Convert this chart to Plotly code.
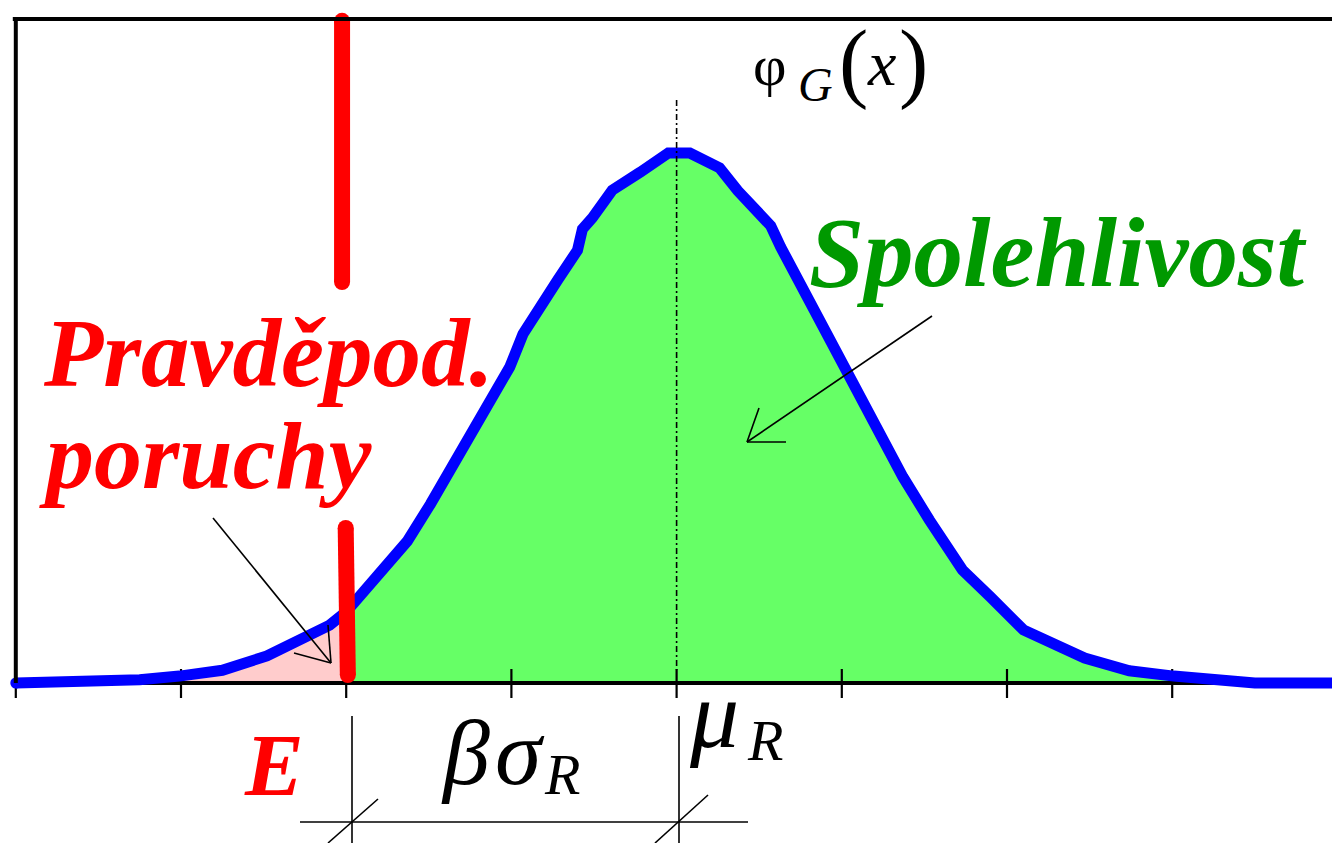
import plotly.graph_objects as go

# ---------------- data (x in units of sigma, tick index; y = relative density) -------------
TICKS = [0, 1, 2, 3, 4, 5, 6, 7]
MU = 4.0          # mean of R
BETA = 2.0        # reliability index
E = MU - BETA     # design point

CURVE_X = [0.0, 0.51, 0.75, 0.99, 1.25, 1.52, 1.72, 1.90, 2.00, 2.10, 2.20, 2.37, 2.51, 2.65,
           2.75, 2.87, 2.99, 3.07, 3.17, 3.28, 3.40, 3.43, 3.49, 3.61, 3.78, 3.95, 4.08, 4.26,
           4.37, 4.49, 4.57, 4.63, 4.81, 4.91, 4.99, 5.09, 5.21, 5.37, 5.53, 5.67, 5.73, 5.90,
           6.10, 6.47, 6.74, 7.01, 7.23, 7.50, 7.97]
CURVE_Y = [0.0, 0.002, 0.006, 0.013, 0.024, 0.051, 0.079, 0.109, 0.134, 0.168, 0.209, 0.267,
           0.337, 0.412, 0.469, 0.531, 0.595, 0.657, 0.708, 0.759, 0.815, 0.855, 0.876, 0.928,
           0.962, 0.998, 0.998, 0.970, 0.927, 0.883, 0.861, 0.821, 0.716, 0.659, 0.603, 0.552,
           0.476, 0.388, 0.307, 0.237, 0.213, 0.162, 0.100, 0.047, 0.023, 0.013, 0.008, 0.0, 0.0]

RED_UPPER_X = [1.975, 1.975]
RED_UPPER_Y = [1.247, 0.755]
RED_LOWER_X = [1.997, 2.010]
RED_LOWER_Y = [0.292, 0.015]

# ---------------- geometry of the canvas ----------------
W, H = 1332, 843
X0_PX, DX_PX = 15.8, 165.2     # pixel of x=0, pixels per unit
Y0_PX, DY_PX = 683.0, 531.0    # pixel of y=0, pixels per unit


def ux(px):
    return (px - X0_PX) / DX_PX


def vy(py):
    return (Y0_PX - py) / DY_PX


XR = [ux(0), ux(W)]
YR = [vy(H), vy(0)]

SERIF = "'Liberation Serif', 'Times New Roman', Times, serif"
RED = "#ff0000"
GREEN_TXT = "#009900"
GREEN_FILL = "#66ff66"
PINK_FILL = "#ffcccc"
BLUE = "#0000ff"

fig = go.Figure()

# fills
px_ = [x for x in CURVE_X if x <= E]
py_ = [y for x, y in zip(CURVE_X, CURVE_Y) if x <= E]
fig.add_trace(go.Scatter(x=px_, y=py_, mode="lines", line=dict(width=0, color=PINK_FILL),
                         fill="tozeroy", fillcolor=PINK_FILL, hoverinfo="skip"))
gx = [x for x in CURVE_X if x >= E]
gy = [y for x, y in zip(CURVE_X, CURVE_Y) if x >= E]
fig.add_trace(go.Scatter(x=gx, y=gy, mode="lines", line=dict(width=0, color=GREEN_FILL),
                         fill="tozeroy", fillcolor=GREEN_FILL, hoverinfo="skip"))

# x axis line
fig.add_trace(go.Scatter(x=[0, XR[1]], y=[0, 0], mode="lines",
                         line=dict(color="black", width=4), hoverinfo="skip"))
# ticks (crossing the axis)
tx, ty = [], []
for t in TICKS:
    top = 0.0 if t == 0 else vy(669)
    tx += [t, t, None]
    ty += [top, vy(698), None]
fig.add_trace(go.Scatter(x=tx, y=ty, mode="lines", line=dict(color="black", width=2.2),
                         hoverinfo="skip"))

# density curve
fig.add_trace(go.Scatter(x=CURVE_X, y=CURVE_Y, mode="lines",
                         line=dict(color=BLUE, width=11), hoverinfo="skip"))
fig.add_trace(go.Scatter(x=[CURVE_X[0]], y=[CURVE_Y[0]], mode="markers",
                         marker=dict(color=BLUE, size=11), hoverinfo="skip"))

# red limit line at E
for xs, ys in [(RED_UPPER_X, RED_UPPER_Y), (RED_LOWER_X, RED_LOWER_Y)]:
    fig.add_trace(go.Scatter(x=xs, y=ys, mode="lines+markers",
                             line=dict(color=RED, width=16),
                             marker=dict(color=RED, size=16), hoverinfo="skip"))

shapes = []


def seg(x1, y1, x2, y2, width=1.6, dash=None, color="black"):
    d = dict(type="line", xref="x", yref="y", x0=x1, y0=y1, x1=x2, y1=y2,
             line=dict(color=color, width=width), layer="above")
    if dash:
        d["line"]["dash"] = dash
    shapes.append(d)


# frame (left and top)
seg(0, 0, 0, vy(19), width=4)
seg(ux(12.8), vy(19), XR[1], vy(19), width=4)
# mean line
seg(MU, vy(100), MU, vy(670), width=1.6, dash="6px,3px,2px,3px")

# arrows (open heads)
ARROWS = [((213, 518), (331, 663), [(294, 653), (328, 625)]),
          ((932, 316), (747, 442), [(759, 408), (786, 442)])]
for (sx, sy), (tx_, ty_), heads in ARROWS:
    seg(ux(sx), vy(sy), ux(tx_), vy(ty_), width=1.6)
    for hx, hy in heads:
        seg(ux(tx_), vy(ty_), ux(hx), vy(hy), width=1.6)

# dimension line beta*sigma
seg(ux(352), vy(716), ux(352), vy(H + 5), width=1.6)
seg(ux(679), vy(716), ux(679), vy(H + 5), width=1.6)
seg(ux(300), vy(822), ux(748), vy(822), width=1.6)
seg(ux(328), vy(843), ux(378), vy(799), width=1.6)
seg(ux(655), vy(843), ux(708), vy(795), width=1.6)

# texts: (text, left px, center px, size, color, weight, style)
TEXTS = [
    ("Pravděpod.", 42, 353, 97, RED, "bold", "italic"),
    ("poruchy", 38, 455, 96, RED, "bold", "italic"),
    ("Spolehlivost", 808, 252, 99, GREEN_TXT, "bold", "italic"),
    ("E", 243, 765, 88, RED, "bold", "italic"),
    ("β", 440, 752, 94, "black", "normal", "italic"),
    ("σ", 494, 752, 94, "black", "normal", "italic"),
    ("R", 543, 774, 58, "black", "normal", "italic"),
    ("μ", 688, 714, 98, "black", "normal", "italic"),
    ("R", 746, 740, 58, "black", "normal", "italic"),
    ("φ", 752, 65, 58, "black", "normal", "normal"),
    ("G", 797, 84, 48, "black", "normal", "italic"),
    ("(", 838, 61, 88, "black", "normal", "normal"),
    ("x", 866, 63, 64, "black", "normal", "italic"),
    (")", 898, 61, 88, "black", "normal", "normal"),
]
annotations = []
for txt, lx, cy, size, col, wt, st in TEXTS:
    annotations.append(dict(
        text=txt, x=ux(lx), y=vy(cy), xref="x", yref="y", xanchor="left", yanchor="middle",
        showarrow=False, borderpad=0,
        font=dict(family=SERIF, size=size, color=col, weight=wt, style=st)))

fig.update_layout(
    width=W, height=H, margin=dict(l=0, r=0, t=0, b=0, pad=0),
    paper_bgcolor="white", plot_bgcolor="white", showlegend=False,
    xaxis=dict(range=XR, visible=False, fixedrange=True),
    yaxis=dict(range=YR, visible=False, fixedrange=True),
    shapes=shapes, annotations=annotations,
)

fig.write_html("out.html")
